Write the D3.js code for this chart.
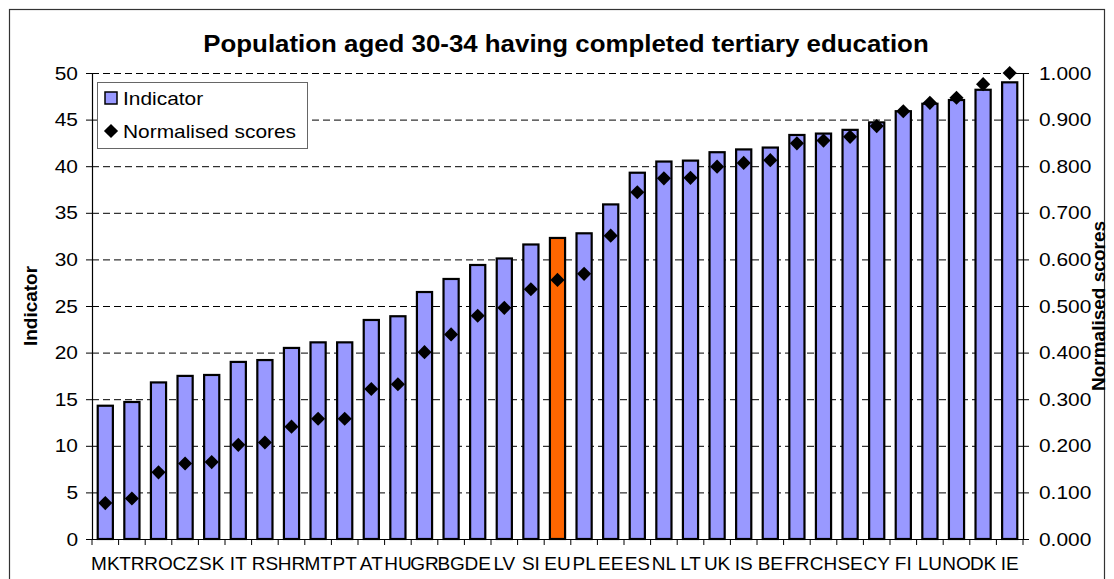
<!DOCTYPE html>
<html>
<head>
<meta charset="utf-8">
<script src="https://cdn.jsdelivr.net/npm/d3@7"></script>
<style>
  body { margin: 0; background: #fff; }
  svg text { font-family: Arial, "Liberation Sans", sans-serif; fill: #000; }
</style>
</head>
<body>
<div id="chart"></div>
<script>
// datos del grafico
let countries = ["MK", "TR", "RO", "CZ", "SK", "IT", "RS", "HR", "MT", "PT", "AT", "HU",
  "GR", "BG", "DE", "LV", "SI", "EU", "PL", "EE", "ES", "NL", "LT", "UK", "IS", "BE",
  "FR", "CH", "SE", "CY", "FI", "LU", "NO", "DK", "IE"]

let indicator = [14.3, 14.7, 16.8, 17.5, 17.6, 19.0, 19.2, 20.5, 21.1, 21.1, 23.5, 23.9,
  26.5, 27.9, 29.4, 30.1, 31.6, 32.3, 32.8, 35.9, 39.3, 40.5, 40.6, 41.5, 41.8, 42.0,
  43.35, 43.5, 43.9, 44.7, 45.9, 46.7, 47.1, 48.2, 49.0]

let scores = [0.077, 0.087, 0.143, 0.162, 0.165, 0.202, 0.207, 0.241, 0.258, 0.258, 0.322,
  0.332, 0.401, 0.439, 0.479, 0.496, 0.536, 0.556, 0.569, 0.651, 0.744, 0.774, 0.775,
  0.799, 0.807, 0.813, 0.849, 0.855, 0.863, 0.886, 0.918, 0.936, 0.947, 0.976, 1.000]

let leftTicks = [0, 5, 10, 15, 20, 25, 30, 35, 40, 45, 50]
let rightTicks = [0, 0.1, 0.2, 0.3, 0.4, 0.5, 0.6, 0.7, 0.8, 0.9, 1.0]
let highlight = "EU"

const title = "Population aged 30-34 having completed tertiary education"

const width = 1114;
const height = 579;
const plot = {left: 92, right: 1023, top: 73, bottom: 539};
// el original esta estirado en horizontal
const stretch = 1.1;

let svg = d3.create("svg")
  .attr("width", width)
  .attr("height", height)
  .attr("viewBox", [0, 0, width, height]);

// borde exterior
svg.append("rect")
  .attr("x", 9.5).attr("y", 9.5)
  .attr("width", 1095).attr("height", 600)
  .attr("fill", "none")
  .attr("stroke", "#333")
  .attr("stroke-width", 1.2);

let xScale = d3.scaleBand().domain(countries).range([plot.left, plot.right]).paddingInner(0.43).paddingOuter(0.215);
let xEdges = d3.scaleLinear().domain([0, countries.length]).range([plot.left, plot.right]);
let yScale = d3.scaleLinear().domain([0, 50]).range([plot.bottom, plot.top]);
let y2Scale = d3.scaleLinear().domain([0, 1]).range([plot.bottom, plot.top]);

// lineas de grilla
svg.append("g")
  .selectAll("line")
  .data(leftTicks.filter(d => d > 0))
  .join("line")
  .attr("x1", plot.left).attr("x2", plot.right)
  .attr("y1", d => yScale(d) + 0.5).attr("y2", d => yScale(d) + 0.5)
  .attr("stroke", "#000")
  .attr("stroke-width", 1)
  .attr("stroke-dasharray", "7,4");

// barras
svg.append("g")
  .selectAll("rect")
  .data(countries)
  .join("rect")
  .attr("x", d => xScale(d))
  .attr("y", (d, i) => yScale(indicator[i]))
  .attr("width", xScale.bandwidth())
  .attr("height", (d, i) => yScale(0) - yScale(indicator[i]))
  .attr("fill", d => d === highlight ? "#FF6600" : "#9999FF")
  .attr("stroke", "#000")
  .attr("stroke-width", 2.2);

// ejes
let leftAxis = svg.append("g")
  .attr("transform", `translate(${plot.left},0)`)
  .call(d3.axisLeft(yScale).tickValues(leftTicks).tickSize(6).tickPadding(8));

let rightAxis = svg.append("g")
  .attr("transform", `translate(${plot.right},0)`)
  .call(d3.axisRight(y2Scale).tickValues(rightTicks).tickSize(6).tickPadding(10).tickFormat(d3.format(".3f")));

let bottomAxis = svg.append("g")
  .attr("class", "bottom")
  .attr("transform", `translate(0,${plot.bottom})`)
  .call(d3.axisBottom(xScale).tickSize(0).tickPadding(18));

// ticks entre categorias
svg.append("g")
  .selectAll("line")
  .data(d3.range(countries.length + 1))
  .join("line")
  .attr("x1", d => xEdges(d)).attr("x2", d => xEdges(d))
  .attr("y1", plot.bottom).attr("y2", plot.bottom + 6)
  .attr("stroke", "#000");

for (let ax of [leftAxis, rightAxis, bottomAxis]) {
  ax.select(".domain").attr("stroke", "#000").attr("stroke-width", 1.2);
  ax.selectAll(".tick line").attr("stroke", "#000");
  ax.selectAll("text").attr("font-size", 19).attr("font-family", null);
}
bottomAxis.select(".domain").attr("d", `M${plot.left - 6},0.5H${plot.right}`);

// marcadores de puntaje
let diamond = d3.symbol().type(d3.symbolSquare).size(100);
svg.append("g")
  .selectAll("path")
  .data(countries)
  .join("path")
  .attr("d", diamond)
  .attr("transform", (d, i) => `translate(${xScale(d) + xScale.bandwidth() / 2},${y2Scale(scores[i])}) rotate(45)`)
  .attr("fill", "#000");

// titulo
svg.append("text")
  .attr("x", 566).attr("y", 52)
  .attr("text-anchor", "middle")
  .attr("font-size", 23.5)
  .attr("font-weight", "bold")
  .text(title);

svg.append("text")
  .attr("class", "vertical")
  .attr("transform", `translate(37,${(plot.top + plot.bottom) / 2}) rotate(-90)`)
  .attr("text-anchor", "middle")
  .attr("font-size", 19)
  .attr("font-weight", "bold")
  .text("Indicator");

svg.append("text")
  .attr("class", "vertical")
  .attr("transform", `translate(1105,${(plot.top + plot.bottom) / 2}) rotate(-90)`)
  .attr("text-anchor", "middle")
  .attr("font-size", 19)
  .attr("font-weight", "bold")
  .text("Normalised scores");

// leyenda
let legend = svg.append("g");
legend.append("rect")
  .attr("x", 97.5).attr("y", 82.5)
  .attr("width", 210).attr("height", 66)
  .attr("fill", "#fff")
  .attr("stroke", "#666");
legend.append("rect")
  .attr("x", 105).attr("y", 92)
  .attr("width", 12).attr("height", 12)
  .attr("fill", "#9999FF")
  .attr("stroke", "#000")
  .attr("stroke-width", 1.5);
legend.append("text")
  .attr("x", 123).attr("y", 105)
  .attr("font-size", 19)
  .text("Indicator");
legend.append("path")
  .attr("d", diamond)
  .attr("transform", "translate(111,131) rotate(45)")
  .attr("fill", "#000");
legend.append("text")
  .attr("x", 123).attr("y", 138)
  .attr("font-size", 19)
  .text("Normalised scores");

d3.select("#chart").append(() => svg.node());

// estirar los textos horizontales (menos las etiquetas de paises)
svg.selectAll("text:not(.vertical)").filter(function() {
  return !this.closest(".bottom");
}).each(function() {
  let w = this.getComputedTextLength();
  d3.select(this)
    .attr("textLength", w * stretch)
    .attr("lengthAdjust", "spacingAndGlyphs");
});
</script>
</body>
</html>
